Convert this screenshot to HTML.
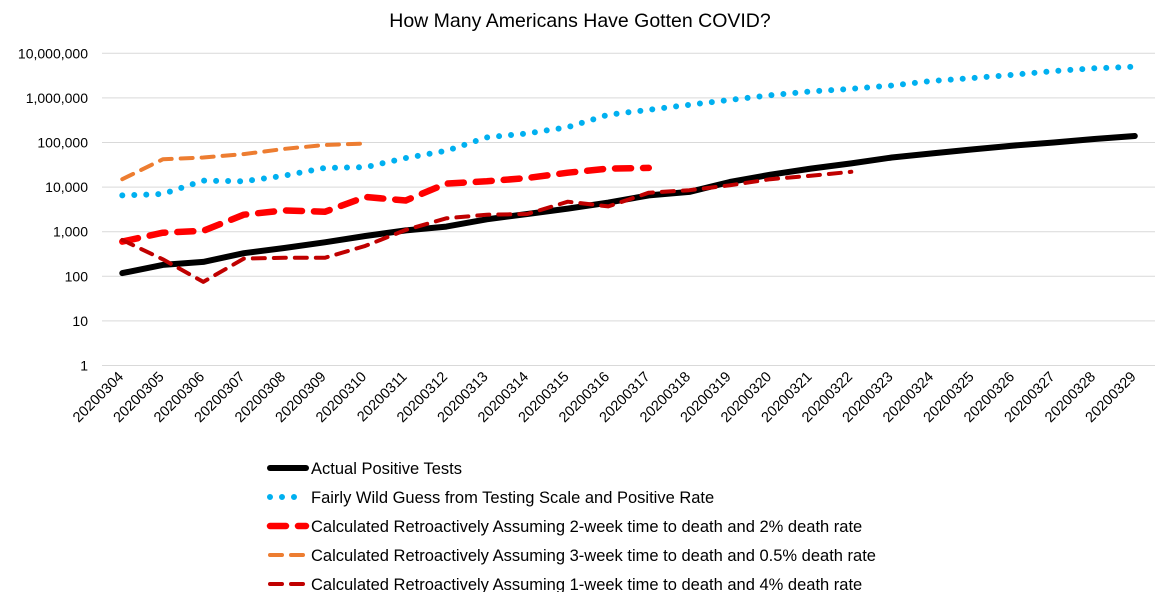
<!DOCTYPE html>
<html><head><meta charset="utf-8"><style>
body{margin:0;background:#fff;}
svg text{font-family:"Liberation Sans",sans-serif;fill:#000;}
</style></head><body>
<svg id="chart" width="1163" height="592" xmlns="http://www.w3.org/2000/svg">
<text x="580" y="27" font-size="19.5" text-anchor="middle">How Many Americans Have Gotten COVID?</text>
<g id="grid"></g><g id="yaxis"></g><g id="xaxis"></g><g id="series"></g><g id="legend"></g>
</svg>
<script>
const categories=["20200304","20200305","20200306","20200307","20200308","20200309","20200310","20200311","20200312","20200313","20200314","20200315","20200316","20200317","20200318","20200319","20200320","20200321","20200322","20200323","20200324","20200325","20200326","20200327","20200328","20200329"];
const yTickLabels=["1","10","100","1,000","10,000","100,000","1,000,000","10,000,000"];
const actualPositive=[118,180,210,330,430,580,800,1070,1300,1900,2500,3300,4500,6500,7800,13000,19000,26000,34000,46000,57000,70000,85000,100000,120000,140000];
const wildGuess=[6500,7000,14000,13500,18000,27000,28000,45000,65000,130000,160000,220000,420000,540000,700000,900000,1150000,1400000,1600000,1900000,2400000,2800000,3300000,4000000,4600000,5000000];
const retro2wk=[600,950,1050,2400,3000,2800,6000,5000,12000,13500,16000,21000,26000,27000];
const retro3wk=[15000,42000,46000,55000,72000,88000,95000];
const retro1wk=[650,240,75,250,260,260,480,1100,2000,2400,2500,4700,3700,7500,8500,11000,15000,18000,22000];
const seriesNames=["Actual Positive Tests","Fairly Wild Guess from Testing Scale and Positive Rate","Calculated Retroactively Assuming 2-week time to death and 2% death rate","Calculated Retroactively Assuming 3-week time to death and 0.5% death rate","Calculated Retroactively Assuming 1-week time to death and 4% death rate"];
const NS="http://www.w3.org/2000/svg";
const L=102,R=1155,Y0=365.5,DEC=44.6;
const bw=(R-L)/categories.length;
const xs=i=>L+bw*(i+0.5);
const ys=v=>Y0-Math.log10(v)*DEC;
function mk(t,a,p){const e=document.createElementNS(NS,t);for(const k in a)e.setAttribute(k,a[k]);p.appendChild(e);return e;}
const grid=document.getElementById('grid'),ya=document.getElementById('yaxis'),xa=document.getElementById('xaxis'),sg=document.getElementById('series'),lg=document.getElementById('legend');
yTickLabels.forEach((lab,i)=>{
 const y=Y0-i*DEC;
 const g=mk('line',{x1:L,x2:R,y1:y,y2:y,stroke:'#d9d9d9','stroke-width':1},grid);
 
 
 const t=mk('text',{x:88,y:y+5,'font-size':14,'text-anchor':'end'},ya);
 t.textContent=lab;
 
 
});
categories.forEach((c,i)=>{
 const x=xs(i)+2,y=Y0+12;
 const t=mk('text',{x:x,y:y,'font-size':14.5,'text-anchor':'end',transform:`rotate(-45 ${x} ${y})`},xa);
 t.textContent=c;
 
 
});
const styles=[
 {data:actualPositive,stroke:'#000',w:6,dash:null},
 {data:wildGuess,stroke:'#00b0f0',w:6,dash:'0 12'},
 {data:retro2wk,stroke:'#ff0000',w:6.5,dash:'16 12'},
 {data:retro3wk,stroke:'#ed7d31',w:4,dash:'12 9'},
 {data:retro1wk,stroke:'#c00000',w:4,dash:'12 9'}
];
const names=['series-actual-positive','series-wild-guess','series-2week-2pct','series-3week-05pct','series-1week-4pct'];
styles.forEach((s,k)=>{
 const pts=s.data.map((v,i)=>xs(i).toFixed(1)+','+ys(v).toFixed(1)).join(' ');
 const a={points:pts,fill:'none',stroke:s.stroke,'stroke-width':s.w,'stroke-linecap':'round','stroke-linejoin':'round'};
 if(s.dash)a['stroke-dasharray']=s.dash;
 const p=mk('polyline',a,sg);
 
 
 const ly=468+k*29;
 const la={x1:270,x2:306,y1:ly,y2:ly,stroke:s.stroke,'stroke-width':s.w,'stroke-linecap':'round'};
 if(s.dash)la['stroke-dasharray']=s.dash;
 const ln=mk('line',la,lg);
 
 
 const t=mk('text',{x:311,y:ly+6,'font-size':16.5},lg);
 t.textContent=seriesNames[k];
 
 
});
</script>
</body></html>
